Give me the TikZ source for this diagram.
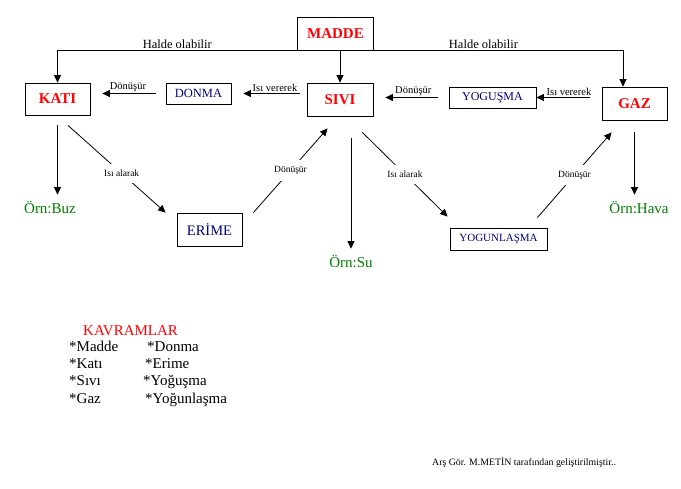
\documentclass[tikz,border=0pt]{standalone}
\usepackage{fontspec}
\setmainfont{Liberation Serif}
\usetikzlibrary{arrows.meta,calc}
\newlength{\du}
\setlength{\du}{1pt}
\definecolor{statecolor}{rgb}{1.000000, 0.000000, 0.000000}
\definecolor{changecolor}{rgb}{0.000000, 0.000000, 0.500000}
\definecolor{examplecolor}{rgb}{0.000000, 0.500000, 0.000000}
\tikzset{
statebox/.style={draw, line width=0.8\du, inner sep=0pt, text=statecolor, font=\fontsize{15}{18}\selectfont\bfseries},
changebox/.style={draw, line width=0.8\du, inner sep=0pt, text=changecolor},
conn/.style={line width=0.8\du, -{Triangle[length=7.5pt,width=7pt]}},
toplabel/.style={font=\fontsize{12.5}{15}\selectfont, inner sep=1.5\du, above},
arrlabel/.style={font=\fontsize{10.5}{12}\selectfont, inner sep=1\du, above},
diaglabel/.style={font=\fontsize{9.5}{11}\selectfont, fill=white, inner xsep=1\du, inner ysep=6\du},
example/.style={text=examplecolor, font=\fontsize{15}{18}\selectfont, inner sep=1\du, anchor=base},
listtext/.style={font=\fontsize{15}{18}\selectfont, inner sep=0pt, anchor=base west}
}
\begin{document}
\begin{tikzpicture}
\pgftransformyscale{-1}
\fill[white] (0\du,0\du) rectangle (681\du,489\du);
\useasboundingbox (0\du,0\du) rectangle (681\du,489\du);
% states
\node[statebox, minimum width=76\du, minimum height=33\du] (madde) at (335.5\du,33.5\du) {MADDE};
\node[statebox, minimum width=65\du, minimum height=32\du] (kati) at (57.5\du,99\du) {KATI};
\node[statebox, minimum width=66\du, minimum height=33\du] (sivi) at (340\du,99.5\du) {SIVI};
\node[statebox, minimum width=65\du, minimum height=33\du] (gaz) at (634.5\du,103.5\du) {GAZ};
% changes
\node[changebox, font=\fontsize{12.5}{15}\selectfont, minimum width=65\du, minimum height=21\du] (donma) at (198.5\du,93.5\du) {DONMA};
\node[changebox, font=\fontsize{12}{14}\selectfont, minimum width=87\du, minimum height=21\du] (yogusma) at (492.5\du,97.5\du) {YOGUŞMA};
\node[changebox, font=\fontsize{14.5}{17}\selectfont, minimum width=65\du, minimum height=33\du] (erime) at (209.5\du,229.5\du) {ERİME};
\node[changebox, font=\fontsize{11}{13}\selectfont, minimum width=97\du, minimum height=22\du] (yogunlasma) at (498.5\du,239\du) {YOGUNLAŞMA};
% examples
\node[example] (buz) at (50\du,214\du) {Örn:Buz};
\node[example] (su) at (351\du,268\du) {Örn:Su};
\node[example] (hava) at (639\du,214\du) {Örn:Hava};
% madde to the states
\draw[conn] (madde.south west) -| (kati.north) node[toplabel, pos=0.25] {Halde olabilir};
\draw[conn] (madde.south east) -| ($(gaz.north)+(-11.5\du,0\du)$) node[toplabel, pos=0.22] {Halde olabilir};
\draw[conn] (sivi.north |- madde.south) -- (sivi.north);
% top row
\draw[conn, shorten <=10\du, shorten >=12\du] (donma.west) -- (kati.east |- donma.west) node[arrlabel, midway] {Dönüşür};
\draw[conn, shorten <=7\du, shorten >=12\du] (sivi.west |- donma.east) -- (donma.east) node[arrlabel, pos=0.42] {Isı vererek};
\draw[conn, shorten <=11\du, shorten >=12\du] (yogusma.west) -- (sivi.east |- yogusma.west) node[arrlabel, pos=0.47] {Dönüşür};
\draw[conn, shorten <=12\du] (gaz.west |- yogusma.east) -- (yogusma.east) node[arrlabel, pos=0.5] {Isı vererek};
% diagonals
\draw[conn] ($(kati.south)+(10.5\du,10\du)$) -- ($(erime.north west)+(-11\du,0\du)$) node[diaglabel, pos=0.55] {Isı alarak};
\draw[conn] ($(erime.north east)+(11\du,0\du)$) -- ($(sivi.south west)+(21\du,12\du)$) node[diaglabel, pos=0.5] {Dönüşür};
\draw[conn] ($(sivi.south east)+(-11\du,16\du)$) -- ($(yogunlasma.north west)+(-2\du,-11\du)$) node[diaglabel, pos=0.5] {Isı alarak};
\draw[conn] ($(yogunlasma.north east)+(-10\du,-10\du)$) -- ($(gaz.south west)+(10\du,12\du)$) node[diaglabel, pos=0.5] {Dönüşür};
% examples
\draw[conn, shorten <=10\du, shorten >=6\du] (kati.south) -- (kati.south |- buz.north);
\draw[conn, shorten >=6\du] ($(sivi.south)+(11\du,22\du)$) -- (su.north);
\draw[conn, shorten <=12\du, shorten >=6\du] (gaz.south) -- (gaz.south |- hava.north);
% kavramlar
\node[listtext, text=statecolor] (kavram) at (83\du,336\du) {KAVRAMLAR};
\node[listtext] (lmadde) at (69\du,352\du) {*Madde};
\node[listtext] (lkati) at (69\du,369\du) {*Katı};
\node[listtext] (lsivi) at (69\du,386\du) {*Sıvı};
\node[listtext] (lgaz) at (69\du,403\du) {*Gaz};
\node[listtext] (ldonma) at (147\du,352\du) {*Donma};
\node[listtext] (lerime) at (145\du,369\du) {*Erime};
\node[listtext] (lyogusma) at (143\du,386\du) {*Yoğuşma};
\node[listtext] (lyogunlasma) at (145\du,403\du) {*Yoğunlaşma};
\node[font=\fontsize{9.8}{12}\selectfont, inner sep=0pt, anchor=base west] (imza) at (432\du,465\du) {Arş Gör. M.METİN tarafından geliştirilmiştir..};
\end{tikzpicture}
\end{document}
